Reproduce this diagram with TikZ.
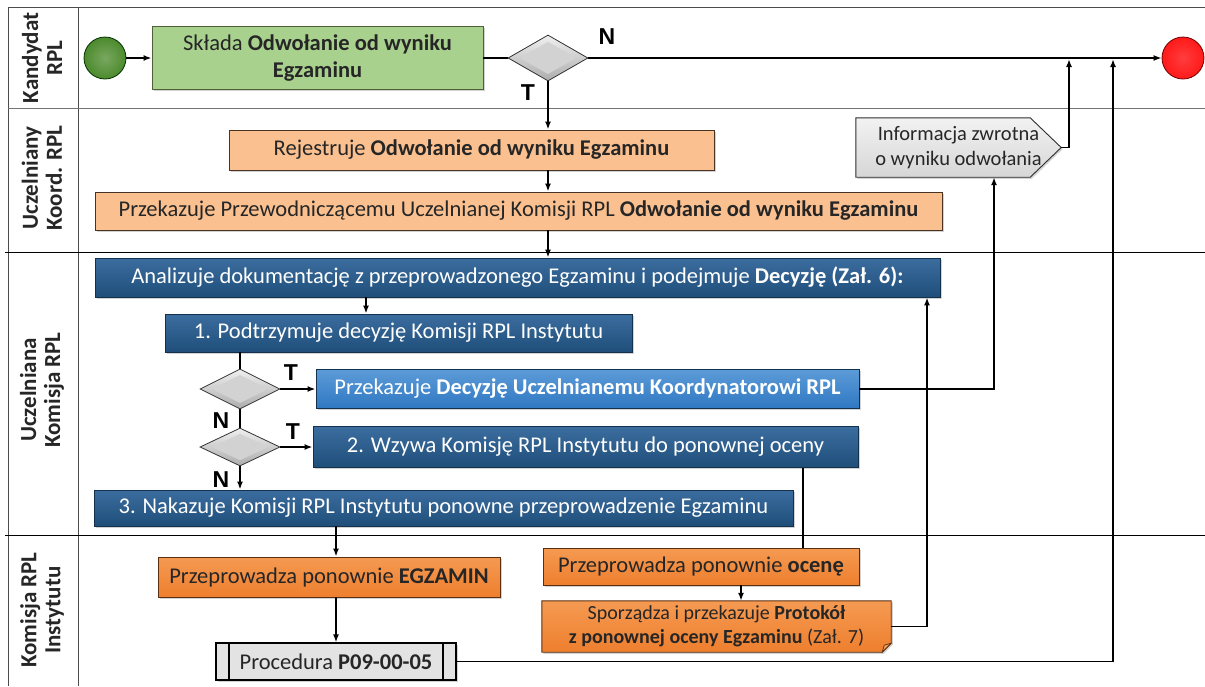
\documentclass[tikz,border=0pt]{standalone}
\usepackage{fontspec}
\setmainfont{Carlito}
\newfontfamily\gatefont{Liberation Sans}
\usetikzlibrary{shapes.geometric,arrows.meta,calc,shadows,backgrounds}

\definecolor{greenfill}{HTML}{A9D18E}
\definecolor{greenedge}{HTML}{4F5F38}
\definecolor{peach}{HTML}{FAC090}
\definecolor{peachedge}{HTML}{4A3322}
\definecolor{navy}{HTML}{1F4E79}
\definecolor{navytop}{HTML}{3B6D9F}
\definecolor{navyedge}{HTML}{13304D}
\definecolor{skyblue}{HTML}{2F78C2}
\definecolor{skybluetop}{HTML}{5C9BD8}
\definecolor{orangefill}{HTML}{EE7F2E}
\definecolor{orangetop}{HTML}{F59A52}
\definecolor{orangeedge}{HTML}{5A3010}
\definecolor{startgreen}{HTML}{4C8A2C}
\definecolor{endred}{HTML}{FF1A1A}

\tikzset{
  lane/.style={draw=black!70, line width=0.8pt},
  lanelabel/.style={rotate=90, align=center, inner sep=0pt,
    font=\fontsize{23}{24}\selectfont\bfseries, text=black!85},
  box/.style={rectangle, line width=0.9pt, align=center, inner sep=0pt,
    font=\fontsize{22.5}{27}\selectfont,
    drop shadow={opacity=0.35, shadow xshift=1.6pt, shadow yshift=-1.6pt}},
  greenbox/.style={box, draw=greenedge, fill=greenfill, text=black!85},
  peachbox/.style={box, draw=peachedge, fill=peach, text=black!85},
  navybox/.style={box, draw=navyedge, top color=navytop, bottom color=navy, text=white},
  skybox/.style={box, draw=navyedge, top color=skybluetop, bottom color=skyblue, text=white},
  orangebox/.style={box, draw=orangeedge, top color=orangetop, bottom color=orangefill, text=black!85},
  gate/.style={diamond, draw=gray!40!black, line width=0.8pt, inner sep=0pt,
    top color=gray!12, bottom color=gray!65,
    path picture={
      \fill[gray!35]
        ($(path picture bounding box.west)!0.3!(path picture bounding box.center)$) --
        ($(path picture bounding box.north)!0.3!(path picture bounding box.center)$) --
        ($(path picture bounding box.east)!0.3!(path picture bounding box.center)$) --
        ($(path picture bounding box.south)!0.3!(path picture bounding box.center)$) -- cycle;}},
  gatelabel/.style={inner sep=0pt, font=\gatefont\bfseries\fontsize{23}{23}\selectfont},
  startev/.style={circle, minimum size=42pt, inner sep=0pt, draw=green!20!black,
    line width=0.8pt, inner color=startgreen!75!white, outer color=startgreen},
  endev/.style={circle, minimum size=42pt, inner sep=0pt, draw=red!45!black,
    line width=0.8pt, inner color=endred!85!white, outer color=endred},
  infotext/.style={rectangle, inner sep=0pt, align=center,
    font=\fontsize{20.5}{25}\selectfont, text=black!85},
  doctext/.style={rectangle, inner sep=0pt, align=center,
    font=\fontsize{20}{24}\selectfont, text=black!85},
  procbox/.style={rectangle, inner sep=0pt, draw=black, line width=1.2pt, fill=gray!22,
    font=\fontsize{22.5}{27}\selectfont, text=black!85,
    drop shadow={opacity=0.35, shadow xshift=1.6pt, shadow yshift=-1.6pt},
    path picture={
      \draw[line width=1.2pt]
        ([xshift=13pt]path picture bounding box.north west) --
        ([xshift=13pt]path picture bounding box.south west)
        ([xshift=-13pt]path picture bounding box.north east) --
        ([xshift=-13pt]path picture bounding box.south east);}},
  arr/.style={line width=1.6pt, -{Latex[length=8pt,width=6pt]}},
  link/.style={line width=1.6pt},
}

\begin{document}
\begin{tikzpicture}[x=1pt,y=-1pt]
\useasboundingbox (0,0) rectangle (1205,686);

% swimlane frame
\draw[lane] (8,7) -- (1205,7);
\draw[lane] (8,7) -- (8,686);
\draw[lane] (78,7) -- (78,686);
\draw[lane, draw=black!55] (8,108) -- (1205,108);
\draw[lane, draw=black] (5,252) -- (1205,252);
\draw[lane, draw=black] (5,535) -- (1205,535);

% lane titles
\node[lanelabel] (laneA) at (42,58) {Kandydat\\RPL};
\node[lanelabel] (laneB) at (42,178) {Uczelniany\\Koord. RPL};
\node[lanelabel] (laneC) at (42,390) {Uczelniana\\Komisja RPL};
\node[lanelabel] (laneD) at (42,610) {Komisja RPL\\Instytutu};

% candidate lane
\node[startev] (start) at (105,58) {};
\node[greenbox, minimum width=331pt, minimum height=63pt] (sklada) at (317.5,58)
  {Składa \textbf{Odwołanie od wyniku}\\\textbf{Egzaminu}};
\node[gate, minimum width=80pt, minimum height=46pt] (g1) at (548,58) {};
\node[endev] (end) at (1183,58) {};
\node[gatelabel] (t1) at (528,93) {T};
\node[gatelabel] (n1) at (607,37) {N};

% coordinator lane
\node[peachbox, minimum width=485pt, minimum height=40pt] (rejestr) at (471.5,150)
  {Rejestruje \textbf{Odwołanie od wyniku Egzaminu}};
\node[peachbox, minimum width=847pt, minimum height=38pt] (przek) at (518.5,211)
  {Przekazuje Przewodniczącemu Uczelnianej Komisji RPL \textbf{Odwołanie od wyniku Egzaminu}};
\node[infotext, minimum width=205pt, minimum height=59pt] (info) at (958.5,147.5)
  {Informacja zwrotna\\o wyniku odwołania};

% university committee lane
\node[navybox, minimum width=845pt, minimum height=39pt] (analiz) at (517.5,277.5)
  {Analizuje dokumentację z przeprowadzonego Egzaminu i podejmuje \textbf{Decyzję (Zał. 6):}};
\node[navybox, minimum width=467pt, minimum height=38pt] (opt1) at (398.5,333)
  {1. Podtrzymuje decyzję Komisji RPL Instytutu};
\node[gate, minimum width=80pt, minimum height=40pt] (g2) at (240,389) {};
\node[skybox, minimum width=543pt, minimum height=39pt] (decyz) at (587.5,389)
  {Przekazuje \textbf{Decyzję Uczelnianemu Koordynatorowi RPL}};
\node[gate, minimum width=80pt, minimum height=38pt] (g3) at (240,447) {};
\node[navybox, minimum width=545pt, minimum height=41pt] (opt2) at (585.5,447)
  {2. Wzywa Komisję RPL Instytutu do ponownej oceny};
\node[navybox, minimum width=699pt, minimum height=36pt] (opt3) at (443.5,508)
  {3. Nakazuje Komisji RPL Instytutu ponowne przeprowadzenie Egzaminu};
\node[gatelabel] (t2) at (291,373) {T};
\node[gatelabel] (n2) at (221,421) {N};
\node[gatelabel] (t3) at (293,432) {T};
\node[gatelabel] (n3) at (221,480) {N};

% institute committee lane
\node[orangebox, minimum width=342pt, minimum height=40pt] (egzamin) at (329,577)
  {Przeprowadza ponownie \textbf{EGZAMIN}};
\node[orangebox, minimum width=316pt, minimum height=37pt] (ocena) at (701,566.5)
  {Przeprowadza ponownie \textbf{ocenę}};
\node[doctext, minimum width=349pt, minimum height=51pt] (protokol) at (716.5,626.5)
  {Sporządza i przekazuje \textbf{Protokół}\\\textbf{z ponownej oceny Egzaminu} (Zał. 7)};
\node[procbox, minimum width=240pt, minimum height=37pt] (proc) at (336,661.5)
  {Procedura \textbf{P09-00-05}};

% outlines of the feedback tag and the protocol document
\begin{scope}[on background layer]
  \path[draw=gray!35!black, line width=0.9pt, top color=gray!10, bottom color=gray!32,
        drop shadow={opacity=0.35, shadow xshift=1.6pt, shadow yshift=-1.6pt}]
    (info.north west) -- ([xshift=-31pt]info.north east) -- (info.east)
    -- ([xshift=-31pt]info.south east) -- (info.south west) -- cycle;
  \path[draw=orangeedge, line width=0.9pt, top color=orangetop, bottom color=orangefill,
        drop shadow={opacity=0.35, shadow xshift=1.6pt, shadow yshift=-1.6pt}]
    (protokol.north west) -- (protokol.north east) -- ([yshift=9pt]protokol.south east)
    -- ([xshift=-9pt]protokol.south east) -- (protokol.south west) -- cycle;
  \path[draw=orangeedge, line width=0.7pt, fill=orangetop]
    ([yshift=9pt]protokol.south east) -- ([xshift=-9pt]protokol.south east)
    -- ([xshift=-7pt,yshift=7pt]protokol.south east) -- cycle;
\end{scope}

% junctions on the main line
\coordinate (j1) at (1069,59);
\coordinate (j2) at (1113,59);

% connectors
\draw[arr] (start) -- (sklada);
\draw[link] (sklada) -- (g1);
\draw[arr] (g1) -- (end);
\draw[arr] (g1) -- (g1 |- rejestr.north);
\draw[arr] (rejestr.south -| g1) -- (przek.north -| g1);
\draw[arr] (przek.south -| g1) -- (analiz.north -| g1);
\draw[arr] ([xshift=-151.5pt]analiz.south) -- ([xshift=-151.5pt]analiz.south |- opt1.north);
\draw[link] (opt1.south -| g2) -- (g2);
\draw[arr] (g2) -- (decyz);
\draw[link] (g2) -- (g3);
\draw[arr] (g3) -- (opt2);
\draw[arr] (g3) -- (g3 |- opt3.north);
\draw[arr] (decyz.east) -| ([xshift=35.5pt]info.south);
\draw[arr] (info.east) -| (j1);
\draw[link] ([xshift=217.5pt]opt2.south) -- ([xshift=217.5pt]opt2.south |- ocena.north);
\draw[arr] (opt3.south -| proc) -- (egzamin.north -| proc);
\draw[arr] (egzamin.south -| proc) -- (proc);
\draw[arr] ([xshift=40pt]ocena.south) -- ([xshift=40pt]ocena.south |- protokol.north);
\draw[arr] (protokol.east) -| ([xshift=409.5pt]analiz.south);
\draw[arr] (proc) -| (j2);
\end{tikzpicture}
\end{document}
